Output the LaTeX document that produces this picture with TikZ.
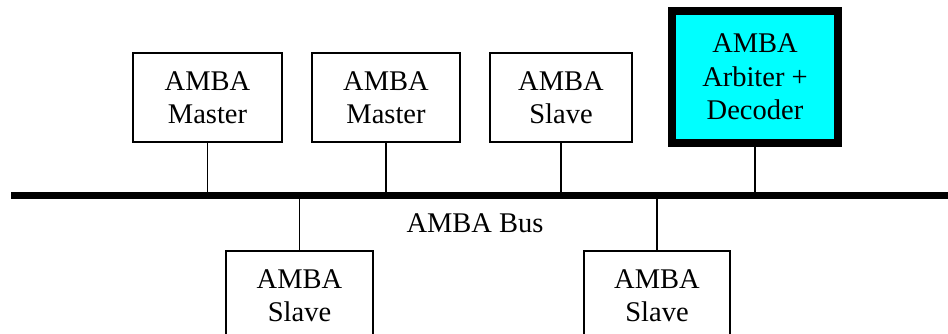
\documentclass[tikz,border=0pt]{standalone}
\usepackage{fontspec}
\setmainfont{Liberation Serif}
\usepackage{tikz}
\usetikzlibrary{positioning}
\definecolor{arbcyan}{RGB}{0,255,255}

\begin{document}
\begin{tikzpicture}[x=1pt,y=1pt,semithick,
  font=\fontsize{28.5}{33.5}\selectfont]
\tikzstyle{block}=[draw=black,line width=1.2pt,fill=white,align=center,
  inner sep=0pt,minimum height=89pt]
\tikzstyle{arbiter}=[block,fill=arbcyan,line width=8pt,
  minimum width=166pt,minimum height=132pt]
\tikzstyle{bus}=[line width=7pt]
\tikzstyle{tap}=[line width=1.2pt]
\useasboundingbox (0,0) rectangle (948,334);
\clip (0,0) rectangle (948,334);
% bus
\coordinate (busL) at (11,138);
\coordinate (busR) at (948,138);
\draw[bus] (busL) -- (busR);
\node[anchor=north] (lbl) at (475,124) {AMBA Bus};
% upper row
\node[block,minimum width=149pt] (m1) at (207.5,236.5) {AMBA\\Master};
\node[block,minimum width=148pt] (m2) at (386,236.5) {AMBA\\Master};
\node[block,minimum width=142pt] (s0) at (561,236.5) {AMBA\\Slave};
\node[arbiter] (arb) at (755,257) {AMBA\\Arbiter +\\Decoder};
% lower row
\node[block,minimum width=147pt] (s1) at (299.5,38.5) {AMBA\\Slave};
\node[block,minimum width=146pt] (s2) at (657,38.5) {AMBA\\Slave};
% taps
\draw[tap] (m1.south) -- (m1.south |- busL);
\draw[tap] (m2.south) -- (m2.south |- busL);
\draw[tap] (s0.south) -- (s0.south |- busL);
\draw[tap] (arb.south) -- (arb.south |- busL);
\draw[tap] (s1.north) -- (s1.north |- busL);
\draw[tap] (s2.north) -- (s2.north |- busL);
\end{tikzpicture}
\end{document}
